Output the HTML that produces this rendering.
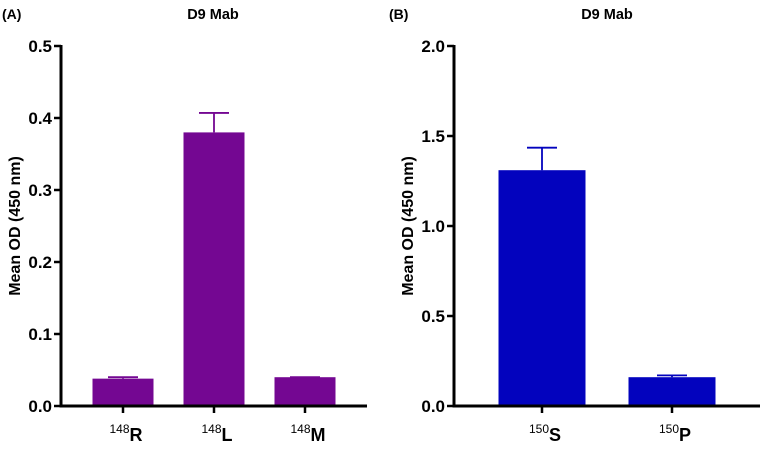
<!DOCTYPE html>
<html><head><meta charset="utf-8"><style>
body{margin:0;background:#fff}
svg text{font-family:"Liberation Sans",Arial,sans-serif;font-weight:bold;fill:#000}
</style></head><body>
<svg id="c" width="767" height="445"></svg>
<script>
const catsA=["148|R","148|L","148|M"];
const valsA=[0.038,0.38,0.04];
const errA=[0.040,0.407,0.040];
const ticksA=[0,0.1,0.2,0.3,0.4,0.5];
const ticksAlbl=["0.0","0.1","0.2","0.3","0.4","0.5"];
const catsB=["150|S","150|P"];
const valsB=[1.31,0.16];
const errB=[1.435,0.17];
const ticksB=[0,0.5,1.0,1.5,2.0];
const ticksBlbl=["0.0","0.5","1.0","1.5","2.0"];
const NS="http://www.w3.org/2000/svg";
const svg=document.getElementById('c');
function mk(t,a,p){const e=document.createElementNS(NS,t);for(const k in a)e.setAttribute(k,a[k]);(p||svg).appendChild(e);return e;}
function panel(o){
 const g=mk('g',{});
 
 
 const y=v=>406-(v/o.max)*360;
 const x=i=>o.c0+i*o.step;
 let t=mk('text',{x:o.lx,y:19,'font-size':14},g);t.textContent=o.letter;
 
 t=mk('text',{x:o.tx,y:19,'font-size':14.5,'text-anchor':'middle'},g);t.textContent="D9 Mab";
 
 t=mk('text',{x:0,y:0,'font-size':16,'text-anchor':'middle',transform:`translate(${o.ax-41},226) rotate(-90)`},g);t.textContent="Mean OD (450 nm)";
 
 o.vals.forEach((v,i)=>{
  const r=mk('rect',{x:x(i)-o.bw/2,y:y(v),width:o.bw,height:406-y(v),fill:o.color},g);
  
  
  const e=mk('path',{d:`M${x(i)} ${y(v)}V${y(o.err[i])}M${x(i)-15} ${y(o.err[i])}H${x(i)+15}`,stroke:o.color,'stroke-width':1.8,fill:'none'},g);
  
  
  mk('line',{x1:x(i),x2:x(i),y1:406,y2:413,stroke:'#000','stroke-width':2.5},g);
  const p=o.cats[i].split('|');
  const ct=mk('text',{x:x(i)+3,y:441,'text-anchor':'middle','font-size':18},g);
  
  
  const s1=mk('tspan',{'font-size':12,'font-weight':'normal',dy:-8},ct);s1.textContent=p[0];
  const s2=mk('tspan',{dy:8},ct);s2.textContent=p[1];
 });
 o.ticks.forEach((v,i)=>{
  mk('line',{x1:o.ax-7,x2:o.ax,y1:y(v),y2:y(v),stroke:'#000','stroke-width':2.5},g);
  const tt=mk('text',{x:o.ax-9,y:y(v)+6,'text-anchor':'end','font-size':17},g);tt.textContent=o.tl[i];
  
  
 });
 mk('path',{d:`M${o.ax} 45V406H${o.xend}`,stroke:'#000','stroke-width':3,fill:'none'},g);
}
panel({name:'panel-a',letter:'(A)',lx:2,tx:213,ax:61,xend:367,c0:123,step:91,bw:61,max:0.5,cats:catsA,vals:valsA,err:errA,ticks:ticksA,tl:ticksAlbl,color:'#740792'});
panel({name:'panel-b',letter:'(B)',lx:389,tx:607,ax:454,xend:760,c0:542,step:130,bw:87,max:2.0,cats:catsB,vals:valsB,err:errB,ticks:ticksB,tl:ticksBlbl,color:'#0303BE'});
</script>
</body></html>
